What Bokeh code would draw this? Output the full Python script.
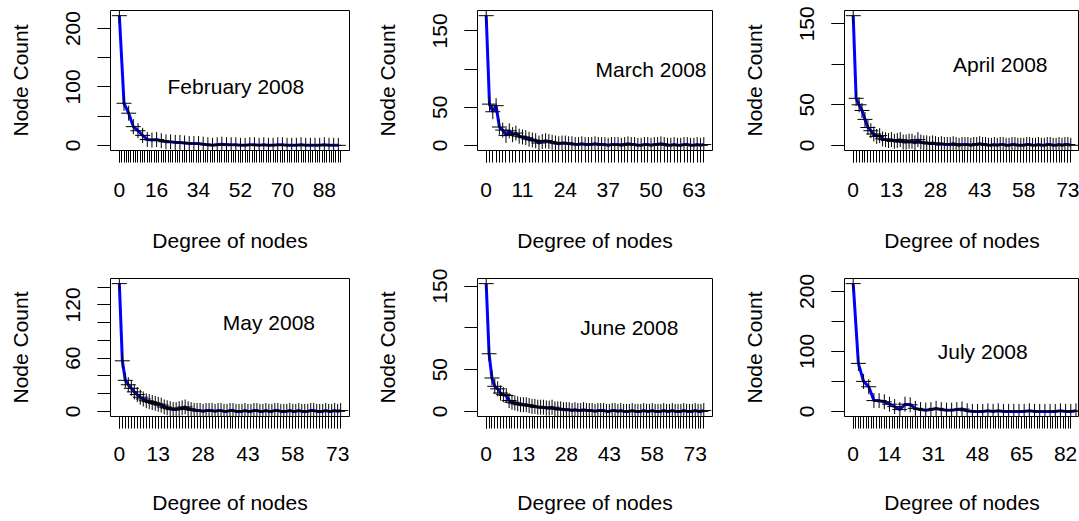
from bokeh.plotting import figure
from bokeh.layouts import gridplot
from bokeh.models import FixedTicker, Range1d, Label
from bokeh.embed import file_html
from bokeh.resources import INLINE

FONT = "Liberation Sans"
FS = "21px"

# ---------------- data ----------------
titles = ["February 2008", "March 2008", "April 2008", "May 2008", "June 2008", "July 2008"]

feb_degree = [0, 2, 4, 6, 8, 10, 12, 14, 16, 18, 20, 22, 24, 26, 28, 30, 32, 34, 36, 38, 40, 42, 44, 46,
              48, 50, 52, 54, 56, 58, 60, 62, 64, 66, 68, 70, 72, 74, 76, 78, 80, 82, 84, 86, 88, 90, 92, 94]
feb_count = [222, 72, 55, 32, 25, 17, 10, 9, 10, 8, 6, 6, 5, 5, 4, 3, 3, 3, 2, 1, 0, 1, 2, 1,
             1, 1, 0, 0, 1, 1, 0, 1, 0, 0, 1, 1, 0, 0, 0, 1, 0, 0, 0, 0, 1, 0, 0, 0]

mar_degree = list(range(0, 67))
mar_count = [170, 54, 44, 52, 24, 20, 13, 19, 14, 16,
             12, 11, 10, 8, 7, 6, 3, 5, 6, 5,
             4, 3, 2, 3, 3, 2, 2, 1, 1, 2,
             1, 1, 1, 2, 1, 1, 1, 0, 1, 1,
             1, 0, 1, 2, 1, 1, 0, 0, 1, 1,
             0, 1, 1, 2, 1, 0, 0, 1, 0, 0,
             1, 1, 0, 0, 1, 0, 1]

apr_degree = list(range(0, 75))
apr_count = [160, 58, 50, 43, 32, 22, 18, 14, 11, 12,
             8, 7, 6, 7, 5, 6, 7, 4, 4, 5,
             5, 3, 7, 4, 3, 3, 2, 3, 2, 1,
             2, 1, 1, 1, 2, 1, 0, 1, 1, 1,
             0, 1, 1, 2, 1, 1, 0, 0, 1, 0,
             1, 1, 0, 0, 1, 1, 0, 0, 0, 1,
             1, 0, 0, 1, 0, 0, 1, 1, 0, 0,
             1, 0, 1, 1, 0]

may_degree = list(range(0, 75))
may_count = [144, 57, 35, 30, 26, 22, 19, 16, 14, 12,
             11, 10, 9, 8, 7, 5, 4, 3, 2, 2,
             3, 4, 5, 3, 2, 1, 1, 1, 0, 1,
             1, 1, 0, 1, 1, 0, 0, 1, 1, 0,
             0, 0, 1, 0, 0, 1, 1, 0, 0, 1,
             0, 0, 1, 1, 0, 0, 0, 1, 0, 0,
             1, 0, 0, 0, 1, 1, 0, 0, 0, 1,
             0, 0, 1, 0, 1]

jun_degree = list(range(0, 77))
jun_count = [153, 69, 40, 30, 27, 22, 20, 19, 13, 11,
             10, 9, 8, 8, 8, 7, 6, 6, 5, 5,
             5, 4, 4, 5, 3, 3, 3, 2, 2, 2,
             1, 2, 1, 1, 2, 1, 1, 1, 0, 1,
             1, 1, 0, 0, 1, 1, 0, 1, 0, 0,
             0, 1, 0, 0, 0, 1, 0, 0, 1, 0,
             0, 0, 1, 0, 0, 1, 0, 0, 0, 1,
             0, 0, 0, 1, 0, 0, 1]

jul_degree = [0, 2, 4, 6, 8, 10, 12, 14, 16, 18, 20, 22, 24, 26, 28, 30, 32, 34, 36, 38, 40, 42, 44, 46,
              48, 50, 52, 54, 56, 58, 60, 62, 64, 66, 68, 70, 72, 74, 76, 78, 80, 82, 84, 86]
jul_count = [213, 80, 50, 41, 18, 18, 16, 12, 8, 3, 12, 11, 5, 3, 2, 3, 5, 3, 2, 2, 3, 4, 1, 0,
             0, 0, 1, 0, 1, 0, 0, 0, 0, 0, 1, 0, 0, 0, 0, 0, 1, 0, 0, 1]

# tick label values shown on the x axes, and last category per panel
x_labels = [[0, 16, 34, 52, 70, 88], [0, 11, 24, 37, 50, 63], [0, 13, 28, 43, 58, 73],
            [0, 13, 28, 43, 58, 73], [0, 13, 28, 43, 58, 73], [0, 14, 31, 48, 65, 82]]
x_last = [95, 66, 74, 74, 76, 84]
y_ticks = [[0, 50, 100, 150, 200], [0, 50, 100, 150], [0, 50, 100, 150],
           [0, 20, 40, 60, 80, 100, 120, 140], [0, 50, 100, 150], [0, 50, 100, 150, 200]]
y_labels = [[0, 100, 200], [0, 50, 150], [0, 50, 150], [0, 60, 120], [0, 50, 150], [0, 100, 200]]

degrees = [feb_degree, mar_degree, apr_degree, may_degree, jun_degree, jul_degree]
counts = [feb_count, mar_count, apr_count, may_count, jun_count, jul_count]

# ---------------- layout ----------------
col_w = [365, 365, 349]
row_h = [258, 263]
frame_left = [110, 112, 114]
frame_w_ref = [239, 235, 235]   # full frame width of the original panel
frame_top = [10, 20]
frame_h = [140, 138]


def make_panel(i):
    r, c = divmod(i, 3)
    w, h = col_w[c], row_h[r]
    D = x_last[i]
    M = max(counts[i])
    x0, x1 = -0.04 * D, 1.04 * D
    fw = min(frame_w_ref[c], w - frame_left[c])
    scale = frame_w_ref[c] / (x1 - x0)
    x1v = x0 + fw / scale
    p = figure(width=w, height=h, output_backend="svg", toolbar_location=None,
               x_range=Range1d(x0, x1v), y_range=Range1d(-0.04 * M, 1.04 * M),
               min_border_left=frame_left[c], min_border_right=w - frame_left[c] - fw,
               min_border_top=frame_top[r], min_border_bottom=h - frame_top[r] - frame_h[r])
    p.grid.visible = False
    p.outline_line_color = "black"
    p.outline_line_width = 1
    p.background_fill_color = "white"
    p.border_fill_color = "white"

    p.line(degrees[i], counts[i], line_color="blue", line_width=3)
    p.scatter(degrees[i], counts[i], marker="cross", size=15, line_color="black", line_width=1)

    p.add_layout(Label(x=50, y=100, text=titles[i], text_align="center", text_baseline="middle",
                       text_font=FONT, text_font_size=FS, text_color="black"))

    xa = p.xaxis[0]
    xa.ticker = FixedTicker(ticks=x_labels[i], minor_ticks=list(range(0, D + 1)))
    xa.axis_line_color = None
    xa.major_tick_in = 0
    xa.major_tick_out = 12
    xa.minor_tick_in = 0
    xa.minor_tick_out = 12
    xa.major_tick_line_color = "black"
    xa.minor_tick_line_color = "black"
    xa.major_label_text_font = FONT
    xa.major_label_text_font_size = FS
    xa.major_label_text_color = "black"
    xa.major_label_standoff = 20 if r == 0 else 18
    xa.axis_label = "Degree of nodes"
    xa.axis_label_text_font = FONT
    xa.axis_label_text_font_size = FS
    xa.axis_label_text_font_style = "normal"
    xa.axis_label_text_color = "black"
    xa.axis_label_standoff = 29 if r == 0 else 27

    ya = p.yaxis[0]
    ya.ticker = FixedTicker(ticks=y_labels[i], minor_ticks=y_ticks[i])
    ya.axis_line_color = None
    ya.major_tick_in = 0
    ya.major_tick_out = 13
    ya.minor_tick_in = 0
    ya.minor_tick_out = 13
    ya.major_tick_line_color = "black"
    ya.minor_tick_line_color = "black"
    ya.major_label_orientation = "vertical"
    ya.major_label_text_font = FONT
    ya.major_label_text_font_size = FS
    ya.major_label_text_color = "black"
    ya.major_label_standoff = 17
    ya.axis_label = "Node Count"
    ya.axis_label_text_font = FONT
    ya.axis_label_text_font_size = FS
    ya.axis_label_text_font_style = "normal"
    ya.axis_label_text_color = "black"
    ya.axis_label_standoff = 32
    return p


panels = [make_panel(i) for i in range(6)]
grid = gridplot([panels[0:3], panels[3:6]], toolbar_location=None)

open("out.html", "w").write(file_html(grid, INLINE))
